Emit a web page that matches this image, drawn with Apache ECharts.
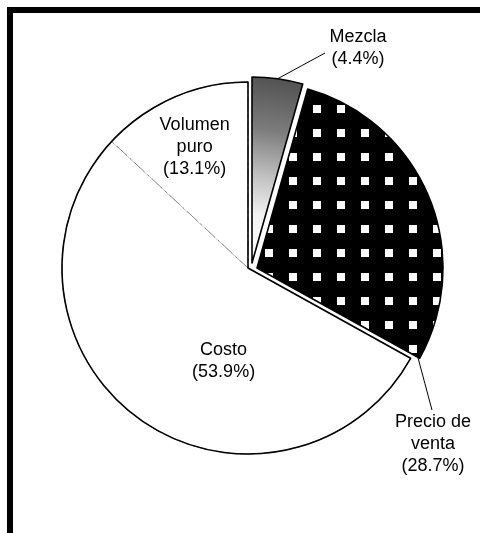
<!DOCTYPE html>
<html>
<head>
<meta charset="utf-8">
<script src="https://cdn.jsdelivr.net/npm/echarts@6/dist/echarts.min.js"></script>
<style>
  html, body { margin: 0; padding: 0; background: #fff; }
  #chart { width: 480px; height: 533px; }
</style>
</head>
<body>
<div id="chart"></div>
<script>
// Shares of the change, clockwise from twelve o'clock
const categories = ['Mezcla', 'Precio de venta', 'Costo', 'Volumen puro'];
const labelLines = [['Mezcla'], ['Precio de', 'venta'], ['Costo'], ['Volumen', 'puro']];
const shares = [4.4, 28.7, 53.9, 13.1];

// Pie geometry
const CENTER = [248, 268];
const RADIUS = 186;
const SHIFT_MEZCLA = [4, -5];
const SHIFT_PRECIO = [9, 0];

const FONT = {
  fontFamily: '"Liberation Sans", Arial, Helvetica, sans-serif',
  fontSize: 18,
  lineHeight: 22,
  color: '#000'
};

function labelText(i) {
  return labelLines[i].join('\n') + '\n(' + shares[i].toFixed(1) + '%)';
}

// Black strips woven over a white ground
function weaveTile() {
  const c = document.createElement('canvas');
  c.width = 24; c.height = 24;
  const g = c.getContext('2d');
  g.fillStyle = '#000';
  g.fillRect(0, 0, 24, 24);
  g.fillStyle = '#fff';
  g.fillRect(1, 9, 8, 8);
  return c;
}

const hidden = { color: 'rgba(0,0,0,0)', borderWidth: 0 };
const noLabel = { show: false };

function pieBase(center) {
  return {
    type: 'pie',
    center: center,
    radius: RADIUS,
    startAngle: 90,
    clockwise: true,
    avoidLabelOverlap: false,
    silent: true,
    animation: false,
    emphasis: { disabled: true },
    labelLine: { show: false }
  };
}

// White slices: Costo and Volumen puro, separated by a faint dash-dot rule
const innerOffsets = { 2: [32, 15], 3: [-15, -33] };
const baseSeries = Object.assign(pieBase(CENTER), {
  z: 1,
  data: categories.map((name, i) => ({
    name: name,
    value: shares[i],
    itemStyle: (i === 2 || i === 3)
      ? { color: '#fff', borderColor: '#7a7a7a', borderWidth: 0.9, borderType: [14, 4, 2, 4] }
      : hidden,
    label: (i === 2 || i === 3)
      ? Object.assign({ show: true, position: 'inner', formatter: labelText(i), offset: innerOffsets[i] }, FONT)
      : noLabel
  }))
});

// Solid outline around the white part of the pie
const outlineSeries = Object.assign(pieBase(CENTER), {
  z: 2,
  data: [
    { name: categories[0], value: shares[0], itemStyle: hidden },
    { name: categories[1], value: shares[1], itemStyle: hidden },
    { name: 'rest', value: shares[2] + shares[3],
      itemStyle: { color: 'rgba(0,0,0,0)', borderColor: '#000', borderWidth: 1.6 } }
  ],
  label: noLabel
});

const mezclaCenter = [CENTER[0] + SHIFT_MEZCLA[0], CENTER[1] + SHIFT_MEZCLA[1]];
const precioCenter = [CENTER[0] + SHIFT_PRECIO[0], CENTER[1] + SHIFT_PRECIO[1]];

const mezclaSeries = Object.assign(pieBase(mezclaCenter), {
  z: 3,
  data: categories.map((name, i) => ({
    name: name,
    value: shares[i],
    itemStyle: i === 0 ? {
      color: {
        type: 'linear', x: 0.8, y: 0, x2: 0.2, y2: 1,
        colorStops: [
          { offset: 0, color: '#4e4e4e' },
          { offset: 0.3, color: '#7c7c7c' },
          { offset: 0.55, color: '#c2c2c2' },
          { offset: 0.75, color: '#f2f2f2' },
          { offset: 1, color: '#ffffff' }
        ]
      },
      borderColor: '#000', borderWidth: 1.6
    } : hidden,
    label: i === 0 ? Object.assign({ show: true, position: 'outside', formatter: labelText(i) }, FONT) : noLabel,
    labelLine: i === 0 ? { show: true, lineStyle: { color: '#000', width: 1 } } : { show: false }
  })),
  labelLayout: function (p) {
    if (p.dataIndex !== 0) return {};
    const start = p.labelLinePoints ? p.labelLinePoints[0] : [284, 78];
    const end = [325, 53];
    return {
      x: 358, y: 48, align: 'center', verticalAlign: 'middle',
      labelLinePoints: [start, [(start[0] + end[0]) / 2, (start[1] + end[1]) / 2], end]
    };
  }
});

// Corner of the Precio slice where its leader starts
const precioEndDeg = (shares[0] + shares[1]) / shares.reduce((a, b) => a + b, 0) * 360;
const precioCorner = [
  precioCenter[0] + (RADIUS - 2) * Math.sin(precioEndDeg * Math.PI / 180),
  precioCenter[1] - (RADIUS - 2) * Math.cos(precioEndDeg * Math.PI / 180)
];

const precioSeries = Object.assign(pieBase(precioCenter), {
  z: 3,
  data: categories.map((name, i) => ({
    name: name,
    value: shares[i],
    itemStyle: i === 1 ? {
      color: { image: weaveTile(), repeat: 'repeat' },
      borderColor: '#000', borderWidth: 1.6
    } : hidden,
    label: i === 1 ? Object.assign({ show: true, position: 'outside', formatter: labelText(i) }, FONT) : noLabel,
    labelLine: i === 1 ? { show: true, lineStyle: { color: '#000', width: 1 } } : { show: false }
  })),
  labelLayout: function (p) {
    if (p.dataIndex !== 1) return {};
    const start = precioCorner;
    const end = [432, 410];
    return {
      x: 433, y: 444, align: 'center', verticalAlign: 'middle',
      labelLinePoints: [start, [(start[0] + end[0]) / 2, (start[1] + end[1]) / 2], end]
    };
  }
});

const chart = echarts.init(document.getElementById('chart'), null, { renderer: 'canvas' });
chart.setOption({
  backgroundColor: '#fff',
  animation: false,
  graphic: [
    { type: 'rect', z: 10, shape: { x: 7, y: 7, width: 480, height: 6 }, style: { fill: '#000' } },
    { type: 'rect', z: 10, shape: { x: 7, y: 7, width: 6, height: 540 }, style: { fill: '#000' } }
  ],
  series: [baseSeries, outlineSeries, mezclaSeries, precioSeries]
});
</script>
</body>
</html>
